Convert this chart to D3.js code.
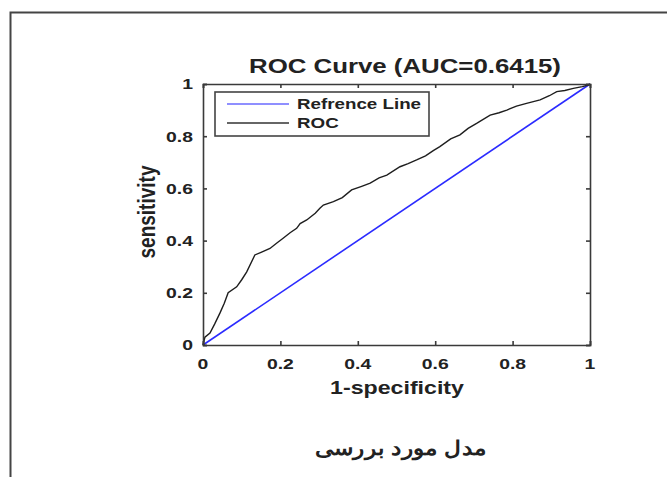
<!DOCTYPE html>
<html lang="en">
<head>
<meta charset="UTF-8">
<title>ROC Curve</title>
<style>
    body { margin: 0; background: #fff; }
    svg { display: block; }
    text { font-family: "Liberation Sans", Arial, sans-serif; fill: #222; }
</style>
</head>
<body>
<svg id="chart" width="667" height="477"></svg>
<script src="https://cdn.jsdelivr.net/npm/d3@7/dist/d3.min.js"></script>
<script>
// values
const titleText = "ROC Curve (AUC=0.6415)";
const xLabel = "1-specificity";
const yLabel = "sensitivity";
const caption = "مدل مورد بررسی";
const legendNames = ["Refrence Line", "ROC"];
const tickValues = [0, 0.2, 0.4, 0.6, 0.8, 1];
const tickLabels = ["0", "0.2", "0.4", "0.6", "0.8", "1"];

const refX = [0, 1];
const refY = [0, 1];

const rocX = [0, 0.005, 0.018, 0.03, 0.044, 0.055, 0.065, 0.087, 0.1, 0.113, 0.134, 0.15, 0.173, 0.19,
    0.207, 0.225, 0.242, 0.251, 0.268, 0.29, 0.302, 0.311, 0.337, 0.36, 0.384, 0.41, 0.432, 0.455,
    0.475, 0.509, 0.53, 0.552, 0.575, 0.595, 0.612, 0.64, 0.664, 0.685, 0.707, 0.742, 0.765, 0.785,
    0.81, 0.836, 0.871, 0.895, 0.914, 0.935, 0.957, 0.98, 0.996, 1];
const rocY = [0, 0.03, 0.046, 0.08, 0.123, 0.16, 0.2, 0.223, 0.25, 0.28, 0.345, 0.355, 0.37, 0.39,
    0.409, 0.43, 0.447, 0.465, 0.479, 0.505, 0.524, 0.536, 0.549, 0.565, 0.594, 0.608, 0.62, 0.64,
    0.651, 0.683, 0.695, 0.709, 0.725, 0.745, 0.76, 0.79, 0.805, 0.83, 0.849, 0.881, 0.89, 0.9,
    0.915, 0.926, 0.939, 0.955, 0.971, 0.975, 0.983, 0.99, 0.996, 1];

const svg = d3.select("#chart");

// outer frame (only top and left edges show in the picture)
svg.append("path")
    .attr("d", "M10.5,477 V12.5 H667")
    .attr("fill", "none")
    .attr("stroke", "#444")
    .attr("stroke-width", 2);

const plot = { left: 203, right: 590, top: 84, bottom: 345 };
const x = d3.scaleLinear().domain([0, 1]).range([plot.left, plot.right]);
const y = d3.scaleLinear().domain([0, 1]).range([plot.bottom, plot.top]);

// the picture is stretched sideways, so text gets a horizontal scale
function putText(str, px, py, opts) {
    const g = svg.append("g")
        .attr("transform", `translate(${px},${py}) scale(${opts.sx || 1},1)` + (opts.rot ? ` rotate(${opts.rot})` : ""));
    return g.append("text")
        .attr("text-anchor", opts.anchor || "middle")
        .attr("font-size", opts.size)
        .attr("font-weight", opts.weight || "bold")
        .text(str);
}

// lines
const line = d3.line().x(d => x(d[0])).y(d => y(d[1]));

svg.append("path")
    .datum(refX.map((v, i) => [v, refY[i]]))
    .attr("fill", "none")
    .attr("stroke", "#2b2bff")
    .attr("stroke-width", 1.6)
    .attr("d", line);

svg.append("path")
    .datum(rocX.map((v, i) => [v, rocY[i]]))
    .attr("fill", "none")
    .attr("stroke", "#1e1e1e")
    .attr("stroke-width", 1.4)
    .attr("d", line);

// axes box with inward ticks on all four sides
const axisColor = "#3a3a3a";
const gx = svg.append("g").attr("transform", `translate(0,${plot.bottom})`)
    .call(d3.axisBottom(x).tickValues(tickValues).tickSize(-4).tickFormat(""));
const gxt = svg.append("g").attr("transform", `translate(0,${plot.top})`)
    .call(d3.axisTop(x).tickValues(tickValues).tickSize(-4).tickFormat(""));
const gy = svg.append("g").attr("transform", `translate(${plot.left},0)`)
    .call(d3.axisLeft(y).tickValues(tickValues).tickSize(-4).tickFormat(""));
const gyr = svg.append("g").attr("transform", `translate(${plot.right},0)`)
    .call(d3.axisRight(y).tickValues(tickValues).tickSize(-4).tickFormat(""));
[gx, gxt, gy, gyr].forEach(g => {
    g.selectAll("path, line").attr("stroke", axisColor).attr("stroke-width", 1.6);
});

// tick labels
tickValues.forEach((v, i) => {
    putText(tickLabels[i], x(v), plot.bottom + 24, { size: 15, sx: 1.29 });
    putText(tickLabels[i], plot.left - 10, y(v) + 5.4, { size: 15, sx: 1.29, anchor: "end" });
});

// titles
putText(titleText, 405, 73, { size: 21, sx: 1.23 });
putText(xLabel, 397, 394, { size: 19, sx: 1.22 });
putText(yLabel, 155, 212, { size: 19, sx: 1.25, rot: -90 });

// legend
const legendColors = ["#6a6aff", "#333"];
svg.append("rect")
    .attr("x", 215).attr("y", 92)
    .attr("width", 214).attr("height", 44)
    .attr("fill", "#fff")
    .attr("stroke", "#444")
    .attr("stroke-width", 1.6);
legendNames.forEach((name, i) => {
    const ly = 104 + i * 19;
    svg.append("line")
        .attr("x1", 227).attr("x2", 289)
        .attr("y1", ly).attr("y2", ly)
        .attr("stroke", legendColors[i])
        .attr("stroke-width", 1.5);
    putText(name, 297, ly + 5, { size: 14, sx: 1.34, anchor: "start" });
});

// Persian caption under the figure
const cap = putText(caption, 0, 0, { size: 20 })
    .attr("font-family", "'DejaVu Sans', sans-serif")
    .attr("fill", "#111");
const capW = cap.node().getComputedTextLength() || 173;
d3.select(cap.node().parentNode)
    .attr("transform", `translate(401,455) scale(${173 / capW},1)`);
</script>
</body>
</html>
